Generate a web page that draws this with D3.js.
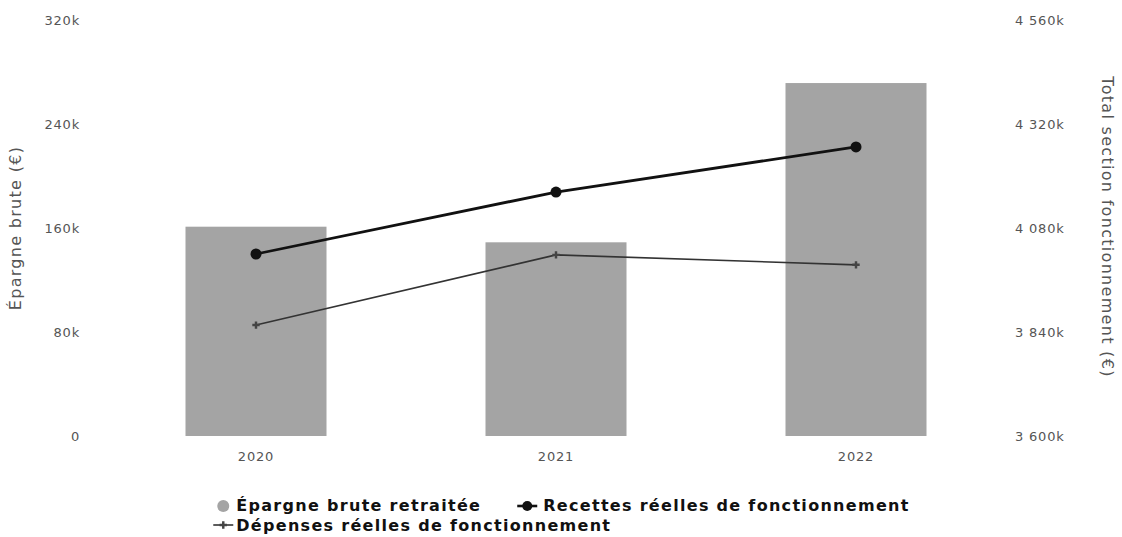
<!DOCTYPE html>
<html>
<head>
  <meta charset="utf-8">
  <title>Épargne brute</title>
  <script src="https://d3js.org/d3.v7.min.js"></script>
  <style>
    body { margin: 0; background: #fff; }
    text { font-family: "DejaVu Sans", sans-serif; }
    .axis text { font-size: 13px; fill: #555; letter-spacing: 0.8px; }
    .axis path, .axis line { display: none; }
    .legend text { font-size: 16px; font-weight: bold; fill: #111; letter-spacing: 1.3px; }
    .title { font-size: 16px; fill: #555; letter-spacing: 1.3px; }
  </style>
</head>
<body>
  <svg width="1122" height="537"></svg>

  <script>
    // Données
    var years = ["2020", "2021", "2022"];
    var epargne = [161000, 149000, 271500];
    var recettes = [4020000, 4163000, 4267000];
    var depenses = [3856000, 4018000, 3995000];
    var leftTicks = [0, 80000, 160000, 240000, 320000];
    var rightTicks = [3600000, 3840000, 4080000, 4320000, 4560000];

    var svg = d3.select("svg");
    var plotTop = 20, plotBottom = 436, plotLeft = 106, plotRight = 1006;

    var x = d3.scaleBand()
      .domain(years)
      .range([plotLeft, plotRight])
      .paddingInner(0.53)
      .paddingOuter(0.265);

    var yL = d3.scaleLinear().domain([0, 320000]).range([plotBottom, plotTop]);
    var yR = d3.scaleLinear().domain([3600000, 4560000]).range([plotBottom, plotTop]);

    function fmtK(v) {
      if (v === 0) return "0";
      var k = Math.round(v / 1000);
      return String(k).replace(/\B(?=(\d{3})+(?!\d))/g, " ") + "k";
    }

    // axes
    svg.append("g")
      .attr("class", "axis")
      .attr("transform", "translate(80,0)")
      .call(d3.axisLeft(yL).tickValues(leftTicks).tickFormat(fmtK).tickSize(0).tickPadding(0));

    svg.append("g")
      .attr("class", "axis")
      .attr("transform", "translate(1015,0)")
      .call(d3.axisRight(yR).tickValues(rightTicks).tickFormat(fmtK).tickSize(0).tickPadding(0));

    svg.append("g")
      .attr("class", "axis")
      .attr("transform", "translate(0,452)")
      .call(d3.axisBottom(x).tickSize(0).tickPadding(0));

    svg.append("text")
      .attr("class", "title")
      .attr("transform", "translate(21,228) rotate(-90)")
      .attr("text-anchor", "middle")
      .text("Épargne brute (€)");

    svg.append("text")
      .attr("class", "title")
      .attr("transform", "translate(1102,227) rotate(90)")
      .attr("text-anchor", "middle")
      .text("Total section fonctionnement (€)");

    // barres
    svg.selectAll(".bar")
      .data(epargne)
      .enter()
      .append("rect")
      .attr("class", "bar")
      .attr("x", function(d, i) { return x(years[i]); })
      .attr("y", function(d) { return yL(d); })
      .attr("width", x.bandwidth())
      .attr("height", function(d) { return plotBottom - yL(d); })
      .attr("fill", "#a4a4a4");

    var cx = function(d, i) { return x(years[i]) + x.bandwidth() / 2; };

    // dépenses
    var lineD = d3.line().x(cx).y(function(d) { return yR(d); });
    svg.append("path")
      .datum(depenses)
      .attr("d", lineD)
      .attr("fill", "none")
      .attr("stroke", "#333")
      .attr("stroke-width", 1.6);

    svg.selectAll(".mk-d")
      .data(depenses)
      .enter()
      .append("path")
      .attr("class", "mk-d")
      .attr("transform", function(d, i) { return "translate(" + cx(d, i) + "," + yR(d) + ")"; })
      .attr("d", d3.symbol().type(d3.symbolCross).size(30))
      .attr("fill", "#444");

    // recettes
    var lineR = d3.line().x(cx).y(function(d) { return yR(d); });
    svg.append("path")
      .datum(recettes)
      .attr("d", lineR)
      .attr("fill", "none")
      .attr("stroke", "#111")
      .attr("stroke-width", 2.8);

    svg.selectAll(".mk-r")
      .data(recettes)
      .enter()
      .append("circle")
      .attr("class", "mk-r")
      .attr("cx", cx)
      .attr("cy", function(d) { return yR(d); })
      .attr("r", 5.5)
      .attr("fill", "#111");

    // légende (centrée sous le graphique)
    var lg = svg.append("g").attr("class", "legend");
    var t1 = lg.append("text").attr("y", 511).text("Épargne brute retraitée");
    var t2 = lg.append("text").attr("y", 511).text("Recettes réelles de fonctionnement");
    var t3 = lg.append("text").attr("y", 531).text("Dépenses réelles de fonctionnement");
    var w1 = t1.node().getComputedTextLength();
    var w2 = t2.node().getComputedTextLength();
    var gap = 36;
    var rowW = 20 + w1 + gap + 26 + w2;
    var x0 = 563 - rowW / 2;

    lg.append("circle").attr("cx", x0 + 7).attr("cy", 506).attr("r", 6).attr("fill", "#a4a4a4");
    t1.attr("x", x0 + 20);

    var mx = x0 + 20 + w1 + gap;
    lg.append("line").attr("x1", mx).attr("x2", mx + 20).attr("y1", 506).attr("y2", 506)
      .attr("stroke", "#111").attr("stroke-width", 2.6);
    lg.append("circle").attr("cx", mx + 10).attr("cy", 506).attr("r", 5).attr("fill", "#111");
    t2.attr("x", mx + 26);

    lg.append("line").attr("x1", x0 - 3).attr("x2", x0 + 17).attr("y1", 525).attr("y2", 525)
      .attr("stroke", "#333").attr("stroke-width", 1.6);
    lg.append("path").attr("transform", "translate(" + (x0 + 7) + ",525)")
      .attr("d", d3.symbol().type(d3.symbolCross).size(30)).attr("fill", "#444");
    t3.attr("x", x0 + 20);
  </script>
</body>
</html>
